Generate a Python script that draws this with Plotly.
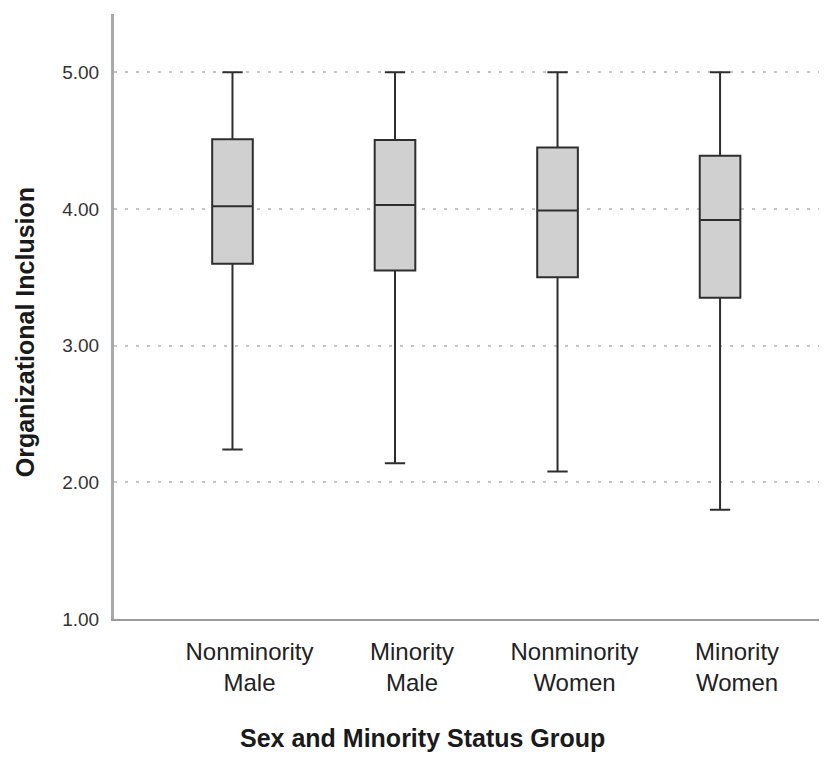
import plotly.graph_objects as go

categories = ["Nonminority<br>Male", "Minority<br>Male", "Nonminority<br>Women", "Minority<br>Women"]
lower_whisker = [2.24, 2.14, 2.08, 1.80]
q1_values = [3.60, 3.55, 3.50, 3.35]
median_values = [4.02, 4.03, 3.99, 3.92]
q3_values = [4.51, 4.505, 4.45, 4.39]
upper_whisker = [5.00, 5.00, 5.00, 5.00]
y_tick_values = [1, 2, 3, 4, 5]
y_tick_labels = ["1.00", "2.00", "3.00", "4.00", "5.00"]
x_title = "Sex and Minority Status Group"
y_title = "Organizational Inclusion"

FONT = "Liberation Sans, Arial, sans-serif"

fig = go.Figure()
fig.add_trace(go.Box(
    x=categories,
    lowerfence=lower_whisker,
    q1=q1_values,
    median=median_values,
    q3=q3_values,
    upperfence=upper_whisker,
    width=0.25,
    whiskerwidth=0.5,
    fillcolor="#d0d0d0",
    line=dict(color="#2e2e2e", width=2),
    boxpoints=False,
    showlegend=False,
))

fig.update_layout(
    width=819, height=762,
    margin=dict(l=106, r=0, t=6, b=151),
    paper_bgcolor="white", plot_bgcolor="white",
    font=dict(family=FONT, color="#222222"),
    xaxis=dict(
        type="category",
        categoryorder="array", categoryarray=categories,
        range=[-0.729, 3.658],
        showline=True, linecolor="#9a9a9a", linewidth=2,
        showgrid=False, zeroline=False, ticks="",
        tickfont=dict(size=24, family=FONT, color="#222222"),
        ticklabelshift=17,
        ticklabelstandoff=10,
    ),
    yaxis=dict(
        range=[1.0, 5.427],
        tickvals=y_tick_values, ticktext=y_tick_labels,
        showline=True, linecolor="#a8a8a8", linewidth=3,
        showgrid=True, gridcolor="#c4c4c4", gridwidth=2, griddash="3px,8px",
        zeroline=False, ticks="",
        tickfont=dict(size=19, family=FONT, color="#333333"),
        ticklabelstandoff=8,
    ),
    annotations=[
        dict(text="<b>" + y_title + "</b>", xref="paper", yref="paper",
             x=-0.1248, y=0.474, textangle=-90, showarrow=False,
             font=dict(size=25, family=FONT, color="#1a1a1a"),
             xanchor="center", yanchor="middle"),
        dict(text="<b>" + x_title + "</b>", xref="paper", yref="paper",
             x=0.432, y=-0.1967, showarrow=False,
             font=dict(size=25, family=FONT, color="#1a1a1a"),
             xanchor="center", yanchor="middle"),
    ],
)

fig.write_html("out.html")
